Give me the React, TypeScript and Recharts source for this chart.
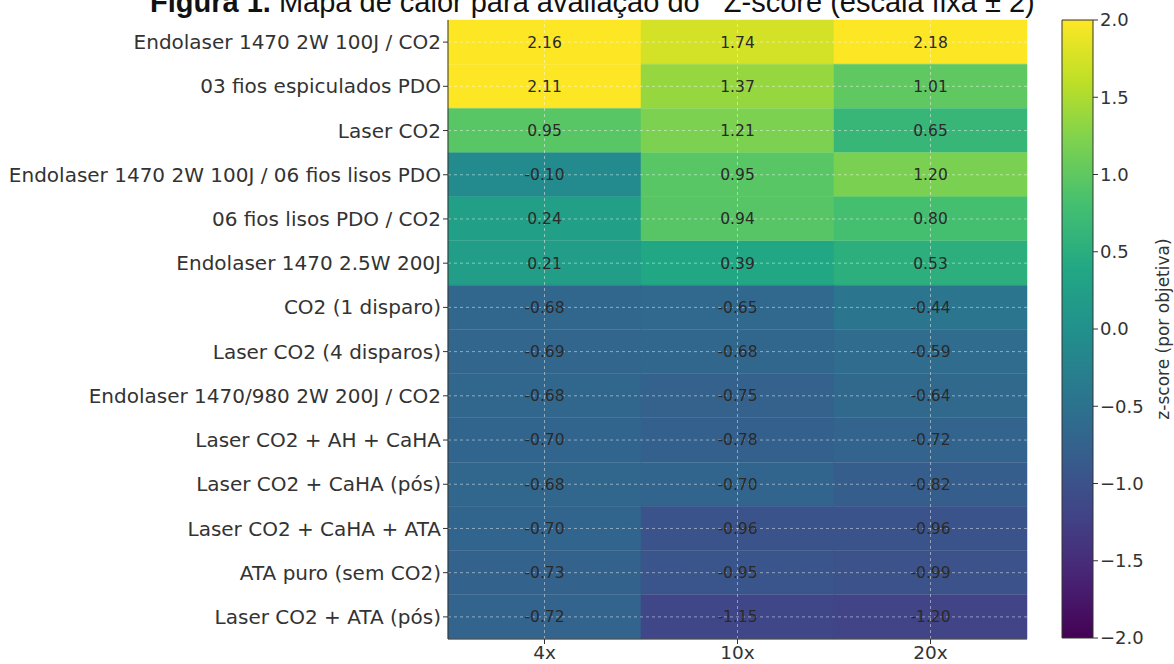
import { BarChart, Bar, XAxis, YAxis, Cell, LabelList, ReferenceLine, Label } from 'recharts';

const treatments = [
  'Endolaser 1470 2W 100J / CO2',
  '03 fios espiculados PDO',
  'Laser CO2',
  'Endolaser 1470 2W 100J / 06 fios lisos PDO',
  '06 fios lisos PDO / CO2',
  'Endolaser 1470 2.5W 200J',
  'CO2 (1 disparo)',
  'Laser CO2 (4 disparos)',
  'Endolaser 1470/980 2W 200J / CO2',
  'Laser CO2 + AH + CaHA',
  'Laser CO2 + CaHA (pós)',
  'Laser CO2 + CaHA + ATA',
  'ATA puro (sem CO2)',
  'Laser CO2 + ATA (pós)',
];

const objectives = ['4x', '10x', '20x'];

const z4x = [2.16, 2.11, 0.95, -0.1, 0.24, 0.21, -0.68, -0.69, -0.68, -0.7, -0.68, -0.7, -0.73, -0.72];
const z10x = [1.74, 1.37, 1.21, 0.95, 0.94, 0.39, -0.65, -0.68, -0.75, -0.78, -0.7, -0.96, -0.95, -1.15];
const z20x = [2.18, 1.01, 0.65, 1.2, 0.8, 0.53, -0.44, -0.59, -0.64, -0.72, -0.82, -0.96, -0.99, -1.2];

const colorbarTicks = [-2, -1.5, -1, -0.5, 0, 0.5, 1, 1.5, 2];

// viridis stops
const VIRIDIS = ['#440154', '#482475', '#414487', '#355f8d', '#2a788e', '#21918c', '#22a884', '#44bf70', '#7ad151', '#bddf26', '#fde725'];

function hexToRgb(h: string) {
  return [parseInt(h.slice(1, 3), 16), parseInt(h.slice(3, 5), 16), parseInt(h.slice(5, 7), 16)];
}

function viridis(v: number) {
  let t = (v + 2) / 4;
  t = Math.max(0, Math.min(1, t));
  const pos = t * (VIRIDIS.length - 1);
  const i = Math.min(Math.floor(pos), VIRIDIS.length - 2);
  const f = pos - i;
  const a = hexToRgb(VIRIDIS[i]);
  const b = hexToRgb(VIRIDIS[i + 1]);
  const c = a.map((x, k) => Math.round(x + (b[k] - x) * f));
  return `rgb(${c[0]},${c[1]},${c[2]})`;
}

const series = [z4x, z10x, z20x];

const data = treatments.map((name, i) => ({
  name,
  c0: 1,
  c1: 1,
  c2: 1,
  z0: z4x[i],
  z1: z10x[i],
  z2: z20x[i],
}));

const colorbarData = [{ k: 'cb', range: [-2, 2] }];

const FONT = '"DejaVu Sans", sans-serif';
const GRID = 'rgba(255,255,255,0.45)';
const fmt = (v: any) => Number(v).toFixed(2);
const fmtBar = (v: number) => v.toFixed(1).replace('-', '\u2212');

export default function App() {
  return (
    <div style={{ position: 'absolute', left: 0, top: 0, width: 1174, height: 664, overflow: 'hidden', background: '#fff' }}>
      <svg width={0} height={0} style={{ position: 'absolute' }}>
        <defs>
          <linearGradient id="viridisGrad" x1="0" y1="1" x2="0" y2="0">
            {VIRIDIS.map((c, i) => (
              <stop key={i} offset={`${(i / (VIRIDIS.length - 1)) * 100}%`} stopColor={c} />
            ))}
          </linearGradient>
        </defs>
      </svg>

      <div
        style={{
          position: 'absolute',
          left: 150,
          top: -12,
          fontFamily: '"Liberation Sans", Arial, sans-serif',
          fontSize: 29,
          lineHeight: '29px',
          whiteSpace: 'nowrap',
          color: '#111',
        }}
      >
        <b>Figura 1.</b> Mapa de calor para avaliação do &nbsp; Z-score (escala fixa ± 2)
      </div>

      <div style={{ position: 'absolute', left: 0, top: 0 }}>
        <BarChart
          width={1030}
          height={664}
          data={data}
          layout="vertical"
          barCategoryGap={0}
          margin={{ top: 20, right: 3, bottom: 5, left: 0 }}
        >
          <XAxis
            type="number"
            domain={[0, 3]}
            ticks={[0.5, 1.5, 2.5]}
            tickFormatter={(v: number) => objectives[Math.floor(v)]}
            height={20}
            tick={{ fontSize: 18.5, fill: '#333', fontFamily: FONT }}
            tickLine={{ stroke: '#333' }}
            axisLine={{ stroke: '#333' }}
            tickSize={5}
          />
          <YAxis
            type="category"
            dataKey="name"
            width={448}
            interval={0}
            tick={{ fontSize: 20, fill: '#333', fontFamily: FONT }}
            tickLine={{ stroke: '#333' }}
            axisLine={{ stroke: '#333' }}
            tickSize={5}
          />
          {series.map((vals, s) => (
            <Bar key={s} dataKey={`c${s}`} stackId="a" isAnimationActive={false}>
              {vals.map((v, i) => (
                <Cell key={i} fill={viridis(v)} stroke={viridis(v)} strokeWidth={0.5} />
              ))}
              <LabelList
                dataKey={`z${s}`}
                position="center"
                formatter={fmt}
                fill="#2a2a2a"
                fontSize={15.5}
                fontFamily={FONT}
              />
            </Bar>
          ))}
          {treatments.map((t) => (
            <ReferenceLine key={t} y={t} stroke={GRID} strokeDasharray="3 3" />
          ))}
          {[0.5, 1.5, 2.5].map((x) => (
            <ReferenceLine key={x} x={x} stroke={GRID} strokeDasharray="3 3" />
          ))}
        </BarChart>
      </div>

      <div style={{ position: 'absolute', left: 1040, top: 0 }}>
        <BarChart
          width={134}
          height={664}
          data={colorbarData}
          barCategoryGap={0}
          margin={{ top: 20, right: 0, bottom: 26, left: 22 }}
        >
          <XAxis type="category" dataKey="k" hide />
          <YAxis
            type="number"
            orientation="right"
            domain={[-2, 2]}
            ticks={colorbarTicks}
            tickFormatter={fmtBar}
            width={81}
            tick={{ fontSize: 18, fill: '#333', fontFamily: FONT }}
            tickLine={{ stroke: '#333' }}
            axisLine={false}
            tickSize={5}
          >
            <Label
              value="z-score (por objetiva)"
              angle={-90}
              position="insideRight"
              offset={11}
              style={{ fontSize: 17, fill: '#333', fontFamily: FONT, textAnchor: 'middle' }}
            />
          </YAxis>
          <Bar dataKey="range" fill="url(#viridisGrad)" stroke="#333" strokeWidth={1} isAnimationActive={false} />
        </BarChart>
      </div>
    </div>
  );
}
